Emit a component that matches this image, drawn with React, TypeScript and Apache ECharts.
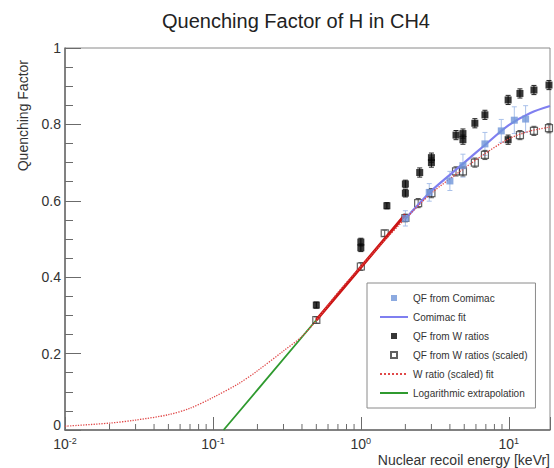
import React, { useEffect, useRef } from 'react';
import * as echarts from 'echarts';

const titleText = 'Quenching Factor of H in CH4';
const xAxisName = 'Nuclear recoil energy [keVr]';
const yAxisName = 'Quenching Factor';

const xMin = 0.01;
const xMax = 19;
const yTicks = [0, 0.2, 0.4, 0.6, 0.8, 1];

// QF from Comimac (blue squares)
const comimacE = [2.0, 2.9, 4.0, 4.9, 6.9, 8.9, 10.9, 13.0];
const comimacQF = [0.554, 0.622, 0.652, 0.692, 0.749, 0.783, 0.811, 0.814];
const comimacErr = [0.02, 0.023, 0.025, 0.03, 0.03, 0.03, 0.035, 0.035];

// QF from W ratios (filled black squares)
const wE = [0.5, 1.0, 1.0, 1.5, 2.0, 2.0, 2.5, 3.0, 3.0, 4.4, 4.9, 4.9, 5.9, 6.9, 9.9, 9.9, 11.9, 14.8, 18.7];
const wQF = [0.327, 0.492, 0.477, 0.587, 0.644, 0.62, 0.674, 0.713, 0.7, 0.772, 0.776, 0.76, 0.803, 0.825, 0.864, 0.76, 0.881, 0.89, 0.903];
const wErr = [0.008, 0.01, 0.01, 0.008, 0.01, 0.01, 0.012, 0.012, 0.012, 0.012, 0.012, 0.012, 0.012, 0.012, 0.012, 0.012, 0.012, 0.012, 0.012];

// QF from W ratios (scaled) (open squares)
const wsE = [0.5, 1.0, 1.45, 2.0, 2.44, 3.0, 4.4, 4.9, 5.9, 6.9, 11.9, 14.8, 18.7];
const wsQF = [0.288, 0.428, 0.515, 0.555, 0.594, 0.62, 0.677, 0.677, 0.7, 0.72, 0.772, 0.783, 0.79];
const wsErr = [0.008, 0.01, 0.008, 0.01, 0.012, 0.012, 0.012, 0.012, 0.012, 0.012, 0.012, 0.012, 0.012];

// Comimac fit (blue line)
const comimacFitE = [2.0, 3.0, 4.0, 5.0, 7.0, 10.0, 14.0, 19.0];
const comimacFitQF = [0.553, 0.626, 0.668, 0.7, 0.748, 0.798, 0.83, 0.848];

// W ratio (scaled) fit (red dotted)
const wFitE = [0.01, 0.02, 0.03, 0.05, 0.07, 0.1, 0.15, 0.2, 0.3, 0.4, 0.5, 0.7, 1.0, 1.5, 2.0, 3.0, 5.0, 7.0, 10.0, 14.0, 19.0];
const wFitQF = [0.01, 0.018, 0.026, 0.04, 0.057, 0.085, 0.122, 0.155, 0.207, 0.245, 0.287, 0.36, 0.428, 0.503, 0.553, 0.62, 0.685, 0.725, 0.762, 0.783, 0.793];

// Logarithmic extrapolation (green) and fitted range (red solid)
const logExtE = [0.118, 0.2, 0.5, 1.0, 2.0];
const logExtQF = [0, 0.105, 0.288, 0.426, 0.564];
const logFitE = [0.5, 1.0, 2.0];
const logFitQF = [0.288, 0.426, 0.564];

const legendNames = [
  'QF from Comimac',
  'Comimac fit',
  'QF from W ratios',
  'QF from W ratios (scaled)',
  'W ratio (scaled) fit',
  'Logarithmic extrapolation',
];
const lineNames = ['Comimac fit', 'W ratio (scaled) fit', 'Logarithmic extrapolation'];

const FONT = "'Liberation Sans', Arial, Helvetica, sans-serif";

const pairs = (xs: number[], ys: number[]) => xs.map((x, i) => [x, ys[i]]);
const triples = (xs: number[], ys: number[], es: number[]) => xs.map((x, i) => [x, ys[i], es[i]]);

function errorBars(data: number[][], color: string, z: number) {
  return {
    type: 'custom',
    silent: true,
    z,
    data,
    encode: { x: 0, y: 1 },
    renderItem: (_p: any, api: any) => {
      const x = api.value(0);
      const y = api.value(1);
      const e = api.value(2);
      const top = api.coord([x, y + e]);
      const bot = api.coord([x, y - e]);
      const cap = 2.5;
      const st = { stroke: color, lineWidth: 1 };
      return {
        type: 'group',
        children: [
          { type: 'line', shape: { x1: top[0], y1: top[1], x2: bot[0], y2: bot[1] }, style: st },
          { type: 'line', shape: { x1: top[0] - cap, y1: top[1], x2: top[0] + cap, y2: top[1] }, style: st },
          { type: 'line', shape: { x1: bot[0] - cap, y1: bot[1], x2: bot[0] + cap, y2: bot[1] }, style: st },
        ],
      };
    },
  };
}

export default function App() {
  const ref = useRef<HTMLDivElement>(null);
  useEffect(() => {
    document.body.style.margin = '0';
    const chart = echarts.init(ref.current as HTMLDivElement, null, { renderer: 'svg' });
    const square = 'path://M0,0L10,0L10,10L0,10Z';
    const minorTicks: number[][] = [];
    for (let d = -2; d <= 1; d++) {
      for (let k = 2; k <= 9; k++) {
        const v = k * Math.pow(10, d);
        if (v < xMax) minorTicks.push([v, 0]);
      }
    }
    const noDot = { color: 'rgba(0,0,0,0)', borderWidth: 0, opacity: 0 };
    const option: any = {
      animation: false,
      backgroundColor: '#fff',
      title: {
        text: titleText,
        left: 291,
        top: 6,
        textAlign: 'center',
        textStyle: { fontFamily: FONT, fontSize: 20, fontWeight: 'normal', color: '#222' },
      },
      grid: {
        left: 65,
        right: 4,
        top: 48,
        bottom: 38,
        show: true,
        borderColor: '#8a8a8a',
        borderWidth: 1,
        backgroundColor: 'transparent',
        outerBoundsMode: 'none',
      },
      legend: {
        data: legendNames.map((n) => (lineNames.includes(n) ? { name: n, itemStyle: noDot } : { name: n })),
        orient: 'vertical',
        left: 367,
        top: 283,
        padding: [10, 8, 10, 12],
        itemGap: 9,
        itemWidth: 28,
        itemHeight: 6,
        borderColor: '#8a8a8a',
        borderWidth: 1,
        backgroundColor: '#fff',
        selectedMode: false,
        textStyle: { fontFamily: FONT, fontSize: 10, color: '#333', lineHeight: 10 },
      },
      xAxis: {
        type: 'log',
        logBase: 10,
        min: xMin,
        max: xMax,
        name: xAxisName,
        nameLocation: 'end',
        nameGap: 0,
        nameMoveOverlap: false,
        nameTextStyle: {
          fontFamily: FONT,
          fontSize: 14,
          color: '#333',
          align: 'right',
          verticalAlign: 'top',
          padding: [23, 0, 0, 0],
        },
        axisLine: { show: true, lineStyle: { color: '#6b6b6b', width: 1.5 } },
        axisTick: { show: true, inside: true, length: 13, lineStyle: { color: '#6b6b6b' } },
        splitLine: { show: false },
        axisLabel: {
          margin: 6,
          color: '#333',
          fontFamily: FONT,
          formatter: (v: number) => {
            const l = Math.log10(v);
            const e = Math.round(l);
            if (Math.abs(l - e) > 1e-6) return '';
            return `{b|10}{s|${e}}`;
          },
          rich: {
            b: { fontSize: 14, lineHeight: 15, color: '#333', fontFamily: FONT },
            s: { fontSize: 9, lineHeight: 15, verticalAlign: 'top', color: '#333', fontFamily: FONT, padding: [0, 0, 6, 0] },
          },
        },
      },
      yAxis: {
        type: 'value',
        min: yTicks[0],
        max: yTicks[yTicks.length - 1],
        interval: 0.2,
        axisLine: { show: true, lineStyle: { color: '#6b6b6b', width: 1.5 } },
        axisTick: { show: true, inside: true, length: 16, lineStyle: { color: '#6b6b6b' } },
        minorTick: { show: true, splitNumber: 4, length: 8, lineStyle: { color: '#6b6b6b' } },
        splitLine: { show: false },
        axisLabel: {
          margin: 4,
          color: '#333',
          fontSize: 14,
          fontFamily: FONT,
          formatter: (v: number) => (v === 0 ? '{z|0}' : String(v)),
          rich: {
            z: { fontSize: 14, color: '#333', fontFamily: FONT, padding: [0, 0, 10, 0] },
          },
        },
      },
      graphic: [
        {
          type: 'text',
          x: 23,
          y: 60,
          rotation: Math.PI / 2,
          style: {
            text: yAxisName,
            fill: '#333',
            fontSize: 14,
            fontFamily: FONT,
            align: 'right',
            verticalAlign: 'middle',
          },
        },
      ],
      series: [
        {
          type: 'custom',
          silent: true,
          z: 1,
          clip: false,
          data: minorTicks,
          encode: { x: 0, y: 1 },
          renderItem: (_p: any, api: any) => {
            const p = api.coord([api.value(0), 0]);
            return {
              type: 'line',
              shape: { x1: p[0], y1: p[1], x2: p[0], y2: p[1] - 6 },
              style: { stroke: '#6b6b6b', lineWidth: 1 },
            };
          },
        },
        errorBars(triples(comimacE, comimacQF, comimacErr), '#a9c1ea', 2),
        errorBars(triples(wE, wQF, wErr), '#222', 2),
        errorBars(triples(wsE, wsQF, wsErr), '#555', 2),
        {
          name: 'Logarithmic extrapolation',
          type: 'line',
          data: pairs(logExtE, logExtQF),
          symbol: 'none',
          z: 3,
          lineStyle: { color: '#2f9a2f', width: 1.8 },
          itemStyle: noDot,
        },
        {
          name: 'W ratio (scaled) fit',
          type: 'line',
          data: pairs(wFitE, wFitQF),
          symbol: 'none',
          smooth: 0.3,
          z: 5,
          lineStyle: { color: '#e04848', width: 1.3, type: 'dotted' },
          itemStyle: noDot,
        },
        {
          name: 'W ratio fit range',
          type: 'line',
          data: pairs(logFitE, logFitQF),
          symbol: 'none',
          z: 4,
          lineStyle: { color: '#cc1515', width: 3 },
          itemStyle: { color: '#cc1515' },
        },
        {
          name: 'Comimac fit',
          type: 'line',
          data: pairs(comimacFitE, comimacFitQF),
          symbol: 'none',
          smooth: 0.3,
          z: 4,
          lineStyle: { color: '#7f7ff0', width: 2.2 },
          itemStyle: noDot,
        },
        {
          name: 'QF from W ratios (scaled)',
          type: 'scatter',
          data: pairs(wsE, wsQF),
          symbol: square,
          symbolSize: 7,
          z: 3,
          itemStyle: { color: 'rgba(255,255,255,0)', borderColor: '#3a3a3a', borderWidth: 1.2 },
        },
        {
          name: 'QF from W ratios',
          type: 'scatter',
          data: pairs(wE, wQF),
          symbol: square,
          symbolSize: 7,
          z: 3,
          itemStyle: { color: '#050505' },
        },
        {
          name: 'QF from Comimac',
          type: 'scatter',
          data: pairs(comimacE, comimacQF),
          symbol: square,
          symbolSize: 7,
          z: 6,
          itemStyle: { color: '#6f95d8' },
        },
      ],
    };
    chart.setOption(option);
    return () => chart.dispose();
  }, []);
  return <div ref={ref} style={{ width: 554, height: 468 }} />;
}
